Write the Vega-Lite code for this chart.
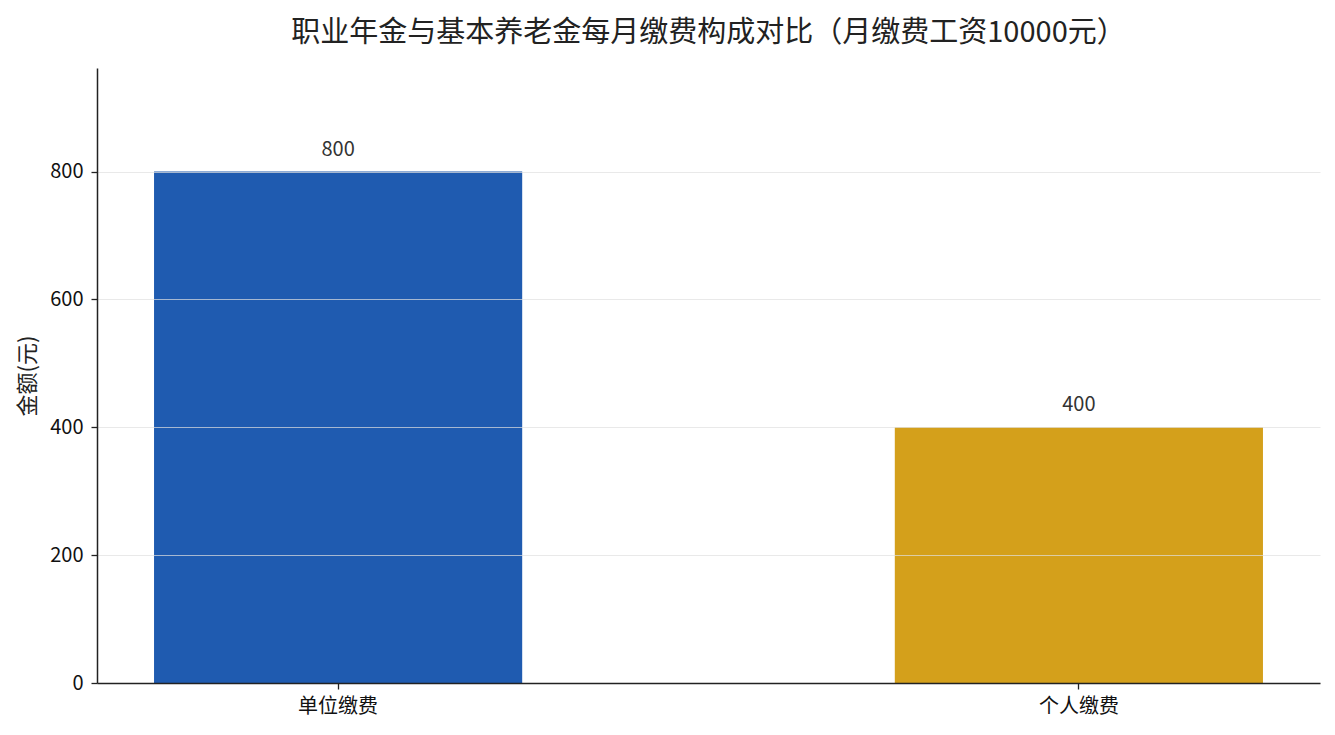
{
  "$schema": "https://vega.github.io/schema/vega-lite/v6.json",
  "autosize": {"type": "none"},
  "width": 1223,
  "height": 615,
  "padding": {"left": 97, "top": 68, "right": 15, "bottom": 52},
  "background": "white",
  "config": {
    "font": "Noto Sans CJK SC",
    "view": {"stroke": null}
  },
  "title": {
    "text": "职业年金与基本养老金每月缴费构成对比（月缴费工资10000元）",
    "fontSize": 29,
    "fontWeight": "normal",
    "color": "#222222",
    "anchor": "middle",
    "offset": 20
  },
  "data": {
    "values": [
      {"类别": "单位缴费", "金额": 800},
      {"类别": "个人缴费", "金额": 400}
    ]
  },
  "encoding": {
    "x": {
      "field": "类别",
      "type": "nominal",
      "sort": null,
      "scale": {"paddingInner": 0.503, "paddingOuter": 0.077},
      "axis": {
        "title": null,
        "labelAngle": 0,
        "labelFontSize": 20,
        "labelColor": "#111111",
        "labelPadding": 7,
        "domainColor": "#222222",
        "domainWidth": 1.5,
        "tickColor": "#222222",
        "tickSize": 6,
        "tickWidth": 1.3,
        "zindex": 2
      }
    },
    "y": {
      "field": "金额",
      "type": "quantitative",
      "scale": {"domain": [0, 962], "nice": false},
      "axis": {
        "title": "金额(元)",
        "titleFontSize": 22,
        "titleFontWeight": "normal",
        "titleColor": "#222222",
        "titlePadding": 10,
        "values": [0, 200, 400, 600, 800],
        "labelFontSize": 20,
        "labelColor": "#111111",
        "labelPadding": 8,
        "domainColor": "#222222",
        "domainWidth": 1.5,
        "tickColor": "#222222",
        "tickSize": 6,
        "tickWidth": 1.3,
        "grid": true,
        "gridColor": "#e0e0e0",
        "gridOpacity": 0.7,
        "zindex": 1
      }
    }
  },
  "layer": [
    {
      "mark": {"type": "bar"},
      "encoding": {
        "color": {
          "field": "类别",
          "type": "nominal",
          "sort": null,
          "scale": {"range": ["#1f5bb0", "#d4a01b"]},
          "legend": null
        }
      }
    },
    {
      "mark": {"type": "text", "baseline": "bottom", "dy": -12, "fontSize": 20, "color": "#333333"},
      "encoding": {
        "text": {"field": "金额", "type": "quantitative"}
      }
    }
  ]
}
